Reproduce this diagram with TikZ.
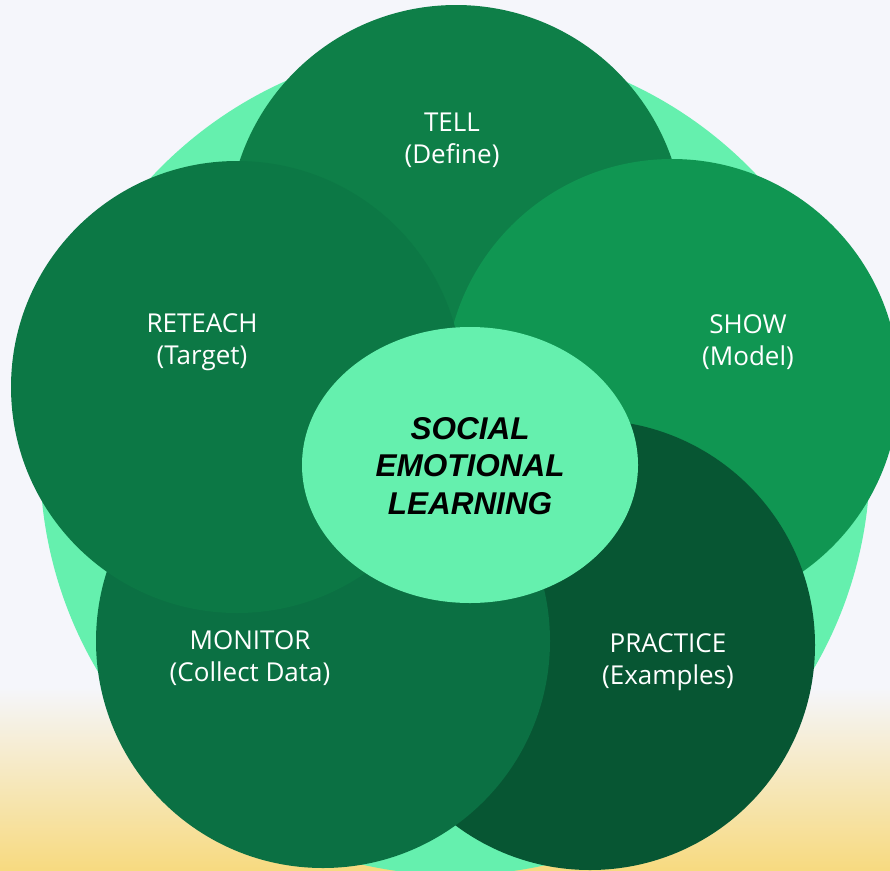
\documentclass[tikz,border=0pt]{standalone}
\usepackage{fontspec}
\setmainfont{Open Sans}
\newfontfamily\coresans{Liberation Sans}
\definecolor{paper}{HTML}{F5F6FB}
\definecolor{sand}{HTML}{F7DA80}
\definecolor{mint}{HTML}{65F0AE}
\definecolor{tellgreen}{HTML}{0E7F48}
\definecolor{showgreen}{HTML}{109652}
\definecolor{practicegreen}{HTML}{075633}
\definecolor{monitorgreen}{HTML}{0B7043}
\definecolor{reteachgreen}{HTML}{0C7845}
\begin{document}
\begin{tikzpicture}[x=1pt,y=-1pt,
  phase/.style={text=white,align=center,inner sep=0pt,font=\fontsize{26}{32}\selectfont},
  core/.style={text=black,align=center,inner sep=0pt,font=\coresans\bfseries\itshape\fontsize{31.5}{37.5}\selectfont}]
\useasboundingbox (0,0) rectangle (890,870);
\fill[paper] (0,0) rectangle (890,870);
\shade[top color=paper,bottom color=sand] (0,687) rectangle (890,870);
\fill[mint] (455,460) circle[radius=415pt];
\fill[tellgreen] (456,233) circle[radius=228pt];
\fill[showgreen] (672,386) circle[radius=227pt];
\fill[practicegreen] (590,645) circle[radius=225pt];
\fill[monitorgreen] (323,641) circle[radius=227pt];
\fill[reteachgreen] (237,387) circle[radius=226pt];
\fill[mint] (470,465) ellipse[x radius=168pt,y radius=138pt];
\node[phase] (tell) at (452,140) {TELL\\(Define)};
\node[phase] (show) at (748,342) {SHOW\\(Model)};
\node[phase] (practice) at (668,662) {PRACTICE\\(Examples)};
\node[phase] (monitor) at (250,658) {MONITOR\\(Collect Data)};
\node[phase] (reteach) at (202,342) {RETEACH\\(Target)};
\node[core] (sel) at (470,466) {SOCIAL\\EMOTIONAL\\LEARNING};
\end{tikzpicture}
\end{document}
